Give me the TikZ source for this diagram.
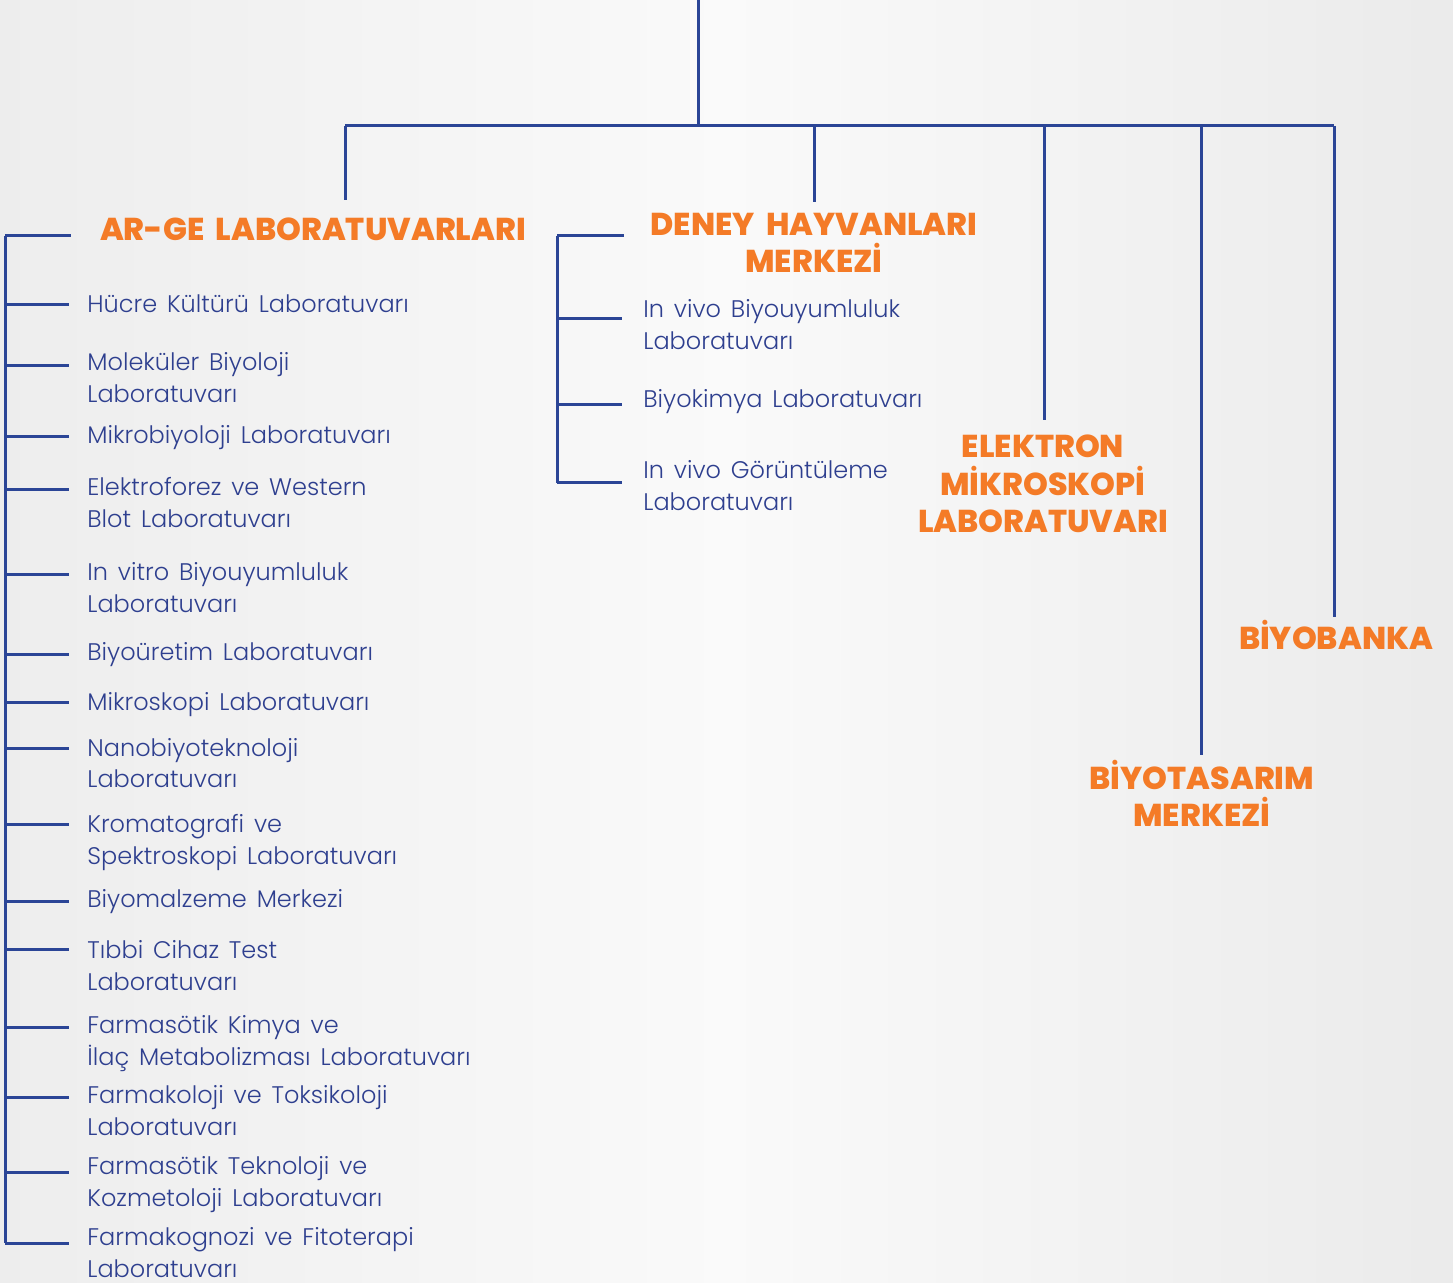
\documentclass[tikz,border=0pt]{standalone}
\usepackage{fontspec}
\setmainfont{Poppins}
\newfontfamily\lightfont{Poppins Light}[WordSpace=1.5]
\newfontfamily\heavyfont{Poppins ExtraBold}[WordSpace=1.9]
\definecolor{labblue}{HTML}{2B4596}
\definecolor{labtext}{HTML}{2E3F8F}
\definecolor{laborange}{HTML}{F47B27}
\newcommand{\headfont}{\heavyfont\fontsize{15.8}{18.8}\selectfont}
\newcommand{\itemfont}{\lightfont\fontsize{12}{16}\selectfont}

\begin{document}
\begin{tikzpicture}[x=0.5pt, y=-0.5pt,
  line/.style={draw=labblue, line width=1.5pt},
  head/.style={text=laborange, font=\headfont, align=center, anchor=base, inner sep=0pt},
  item/.style={text=labtext, font=\itemfont, align=left, anchor=base west, inner sep=0pt}]

  % Background
  \shade[left color=black!7, right color=black!8, middle color=black!2] (0,0) rectangle (1453,1283);
  \useasboundingbox (0,0) rectangle (1453,1283);

  % Top bus
  \coordinate (top) at (698,0);
  \coordinate (bus) at (698,126);
  \coordinate (busl) at (345,126);
  \coordinate (busr) at (1334,126);
  \draw[line] (top) -- (bus);
  \draw[line] (busl) -- (busr);

  % Headings (base = last line)
  \node[head] (arge) at (313,241) {AR-GE LABORATUVARLARI};
  \node[head] (deney) at (814,273) {DENEY HAYVANLARI\\MERKEZİ};
  \node[head] (elektron) at (1043,533) {ELEKTRON\\MİKROSKOPİ\\LABORATUVARI};
  \node[head] (biyobanka) at (1336,650) {BİYOBANKA};
  \node[head] (biyotasarim) at (1202,827) {BİYOTASARIM\\MERKEZİ};

  % Drops from the bus
  \coordinate (argedrop) at (345,200);
  \coordinate (deneydrop) at (814,202);
  \coordinate (elektrondrop) at (1044,420);
  \coordinate (biyotasarimdrop) at (1201,755);
  \coordinate (biyobankadrop) at (1334,617);
  \draw[line] (busl) -- (argedrop);
  \draw[line] (busl -| deneydrop) -- (deneydrop);
  \draw[line] (busl -| elektrondrop) -- (elektrondrop);
  \draw[line] (busl -| biyotasarimdrop) -- (biyotasarimdrop);
  \draw[line] (busr) -- (biyobankadrop);

  % AR-GE bracket
  \coordinate (argetop) at (5,236);
  \coordinate (argebot) at (5,1243);
  \coordinate (argetick) at (71,236);
  \draw[line] (argetop) -- (argebot);
  \draw[line] (argetop) -- (argetick);
  \foreach \ty/\by/\txt [count=\i] in {
    305/313/{Hücre Kültürü Laboratuvarı},
    366/403/{Moleküler Biyoloji\\Laboratuvarı},
    437/444/{Mikrobiyoloji Laboratuvarı},
    490/528/{Elektroforez ve Western\\Blot Laboratuvarı},
    575/613/{In vitro Biyouyumluluk\\Laboratuvarı},
    655/661/{Biyoüretim Laboratuvarı},
    703/711/{Mikroskopi Laboratuvarı},
    749/788/{Nanobiyoteknoloji\\Laboratuvarı},
    825/864/{Kromatografi ve\\Spektroskopi Laboratuvarı},
    901/907/{Biyomalzeme Merkezi},
    949/990/{Tıbbi Cihaz Test\\Laboratuvarı},
    1027/1065/{Farmasötik Kimya ve\\İlaç Metabolizması Laboratuvarı},
    1097/1135/{Farmakoloji ve Toksikoloji\\Laboratuvarı},
    1172/1206/{Farmasötik Teknoloji ve\\Kozmetoloji Laboratuvarı},
    1243/1277/{Farmakognozi ve Fitoterapi\\Laboratuvarı}} {
    \node[item] (ar\i) at (87,\by) {\txt};
    \coordinate (art\i) at (69,\ty);
    \draw[line] (argetop |- art\i) -- (art\i);
  }

  % Deney bracket
  \coordinate (deneytop) at (557,236);
  \coordinate (deneybot) at (557,483);
  \coordinate (deneytick) at (624,236);
  \draw[line] (deneytop) -- (deneybot);
  \draw[line] (deneytop) -- (deneytick);
  \foreach \ty/\by/\txt [count=\i] in {
    319/350/{In vivo Biyouyumluluk\\Laboratuvarı},
    405/408/{Biyokimya Laboratuvarı},
    483/511/{In vivo Görüntüleme\\Laboratuvarı}} {
    \node[item] (dh\i) at (643,\by) {\txt};
    \coordinate (dht\i) at (622,\ty);
    \draw[line] (deneytop |- dht\i) -- (dht\i);
  }
\end{tikzpicture}
\end{document}
